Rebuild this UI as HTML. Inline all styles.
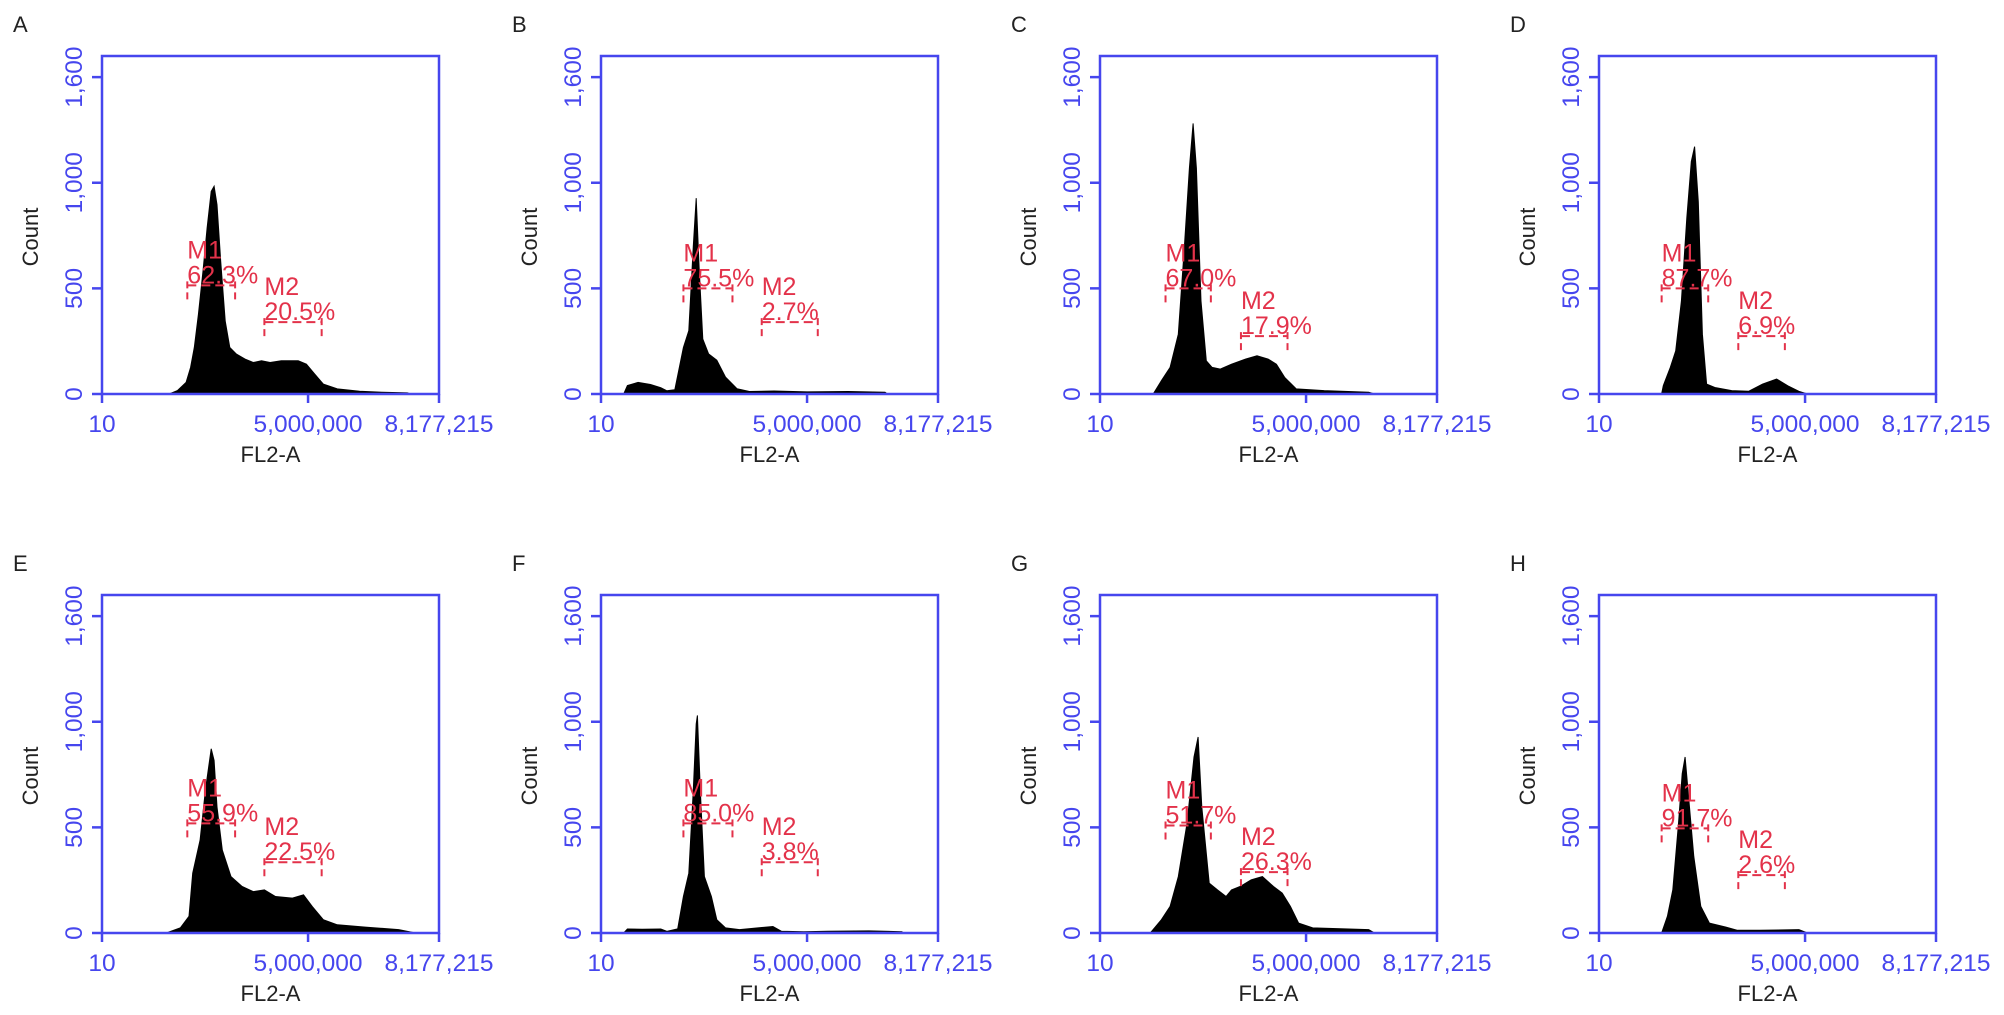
<!DOCTYPE html>
<html><head><meta charset="utf-8"><style>
html,body{margin:0;padding:0;background:#fff;}
svg{display:block;font-family:"Liberation Sans",Arial,sans-serif;}
</style></head><body>
<svg id="fig" width="2004" height="1015" viewBox="0 0 2004 1015" xmlns="http://www.w3.org/2000/svg"></svg>
<script>
// ---- data ----
const panelLetters = ['A','B','C','D','E','F','G','H'];
const yTickValues = [0, 500, 1000, 1500];
const yTickLabels = ['0', '500', '1,000', '1,600'];
const xTickValues = [0, 5, 8.177215];
const xTickLabels = ['10', '5,000,000', '8,177,215'];
// histogram outlines: x in millions (FL2-A), counts
const histX_A = [1.63,1.83,2.04,2.15,2.24,2.34,2.45,2.55,2.65,2.72,2.79,2.88,2.99,3.10,3.26,3.47,3.67,3.87,4.08,4.35,4.76,4.96,5.16,5.37,5.71,6.25,6.80,7.41,7.48];
const histY_A = [0,16,55,126,220,377,582,786,959,983,896,629,346,220,189,165,149,157,149,157,157,141,94,47,24,13,8,5,0];
const histX_B = [0.55,0.64,0.9,1.2,1.45,1.6,1.79,2.00,2.13,2.24,2.31,2.38,2.47,2.61,2.81,3.02,3.30,3.60,4.2,5.0,6.0,6.89,6.95];
const histY_B = [0,40,55,45,30,15,20,220,300,700,927,600,260,190,160,80,25,12,14,10,12,8,0];
const histX_C = [1.29,1.49,1.70,1.90,2.04,2.17,2.26,2.34,2.45,2.58,2.72,2.92,3.19,3.53,3.81,4.08,4.28,4.48,4.76,5.44,6.52,6.66];
const histY_C = [0,63,126,283,676,1069,1281,1069,440,157,126,118,141,165,181,165,141,79,24,16,8,0];
const histX_D = [1.52,1.56,1.73,1.86,2.00,2.13,2.24,2.32,2.41,2.51,2.61,2.81,3.22,3.63,3.97,4.31,4.58,4.85,5.06];
const histY_D = [0,40,126,204,440,833,1100,1171,911,283,47,31,16,13,47,71,39,13,0];
const histX_E = [1.56,1.90,2.11,2.20,2.38,2.51,2.65,2.72,2.79,2.92,3.13,3.40,3.67,3.94,4.21,4.62,4.89,5.10,5.37,5.71,6.39,7.20,7.61];
const histY_E = [0,24,79,283,440,676,872,817,597,393,267,220,196,204,173,165,181,126,63,39,28,16,0];
const histX_F = [0.55,0.64,1.0,1.45,1.6,1.86,2.00,2.13,2.24,2.31,2.34,2.41,2.51,2.68,2.81,3.02,3.36,4.17,4.38,4.92,5.5,6.5,7.30,7.35];
const histY_F = [0,19,18,19,8,20,173,283,676,990,1030,676,267,173,63,24,16,31,8,6,8,10,6,0];
const histX_G = [1.22,1.49,1.70,1.90,2.11,2.28,2.38,2.47,2.65,2.85,3.06,3.19,3.40,3.67,3.94,4.21,4.42,4.62,4.82,5.16,6.52,6.66];
const histY_G = [0,63,126,267,519,833,928,597,236,204,173,204,220,252,267,220,189,126,47,24,16,0];
const histX_H = [1.52,1.66,1.79,1.93,2.02,2.09,2.16,2.30,2.47,2.68,3.08,3.36,3.90,4.85,5.06];
const histY_H = [0,79,204,519,754,833,676,362,126,47,28,13,13,16,0];
const histXs = [histX_A,histX_B,histX_C,histX_D,histX_E,histX_F,histX_G,histX_H];
const histYs = [histY_A,histY_B,histY_C,histY_D,histY_E,histY_F,histY_G,histY_H];
// markers M1/M2: start, end (millions), level (count), percent label
const m1Start = [2.07,2.00,1.59,1.52,2.07,2.00,1.59,1.52];
const m1End   = [3.23,3.19,2.69,2.65,3.23,3.19,2.69,2.65];
const m1Level = [514,500,500,500,519,519,509,495];
const m1Pct   = ['62.3%','75.5%','67.0%','87.7%','55.9%','85.0%','51.7%','91.7%'];
const m2Start = [3.94,3.90,3.42,3.38,3.94,3.90,3.42,3.38];
const m2End   = [5.33,5.26,4.55,4.51,5.33,5.26,4.55,4.51];
const m2Level = [340,340,274,274,335,335,288,274];
const m2Pct   = ['20.5%','2.7%','17.9%','6.9%','22.5%','3.8%','26.3%','2.6%'];

// ---- layout ----
const NS='http://www.w3.org/2000/svg';
const svg=document.getElementById('fig');
const lefts=[102,601,1100,1599], tops=[56,595];
const W=337, H=338, XMAX=8.177215, YMAX=1600;
const BLUE='#4646ee', RED='#e3324a';
function mk(tag, attrs, parent){const e=document.createElementNS(NS,tag);for(const k in attrs)e.setAttribute(k,attrs[k]);(parent||svg).appendChild(e);return e;}

panelLetters.forEach((L,i)=>{
  const x0=lefts[i%4], y0=tops[Math.floor(i/4)];
  const sx=v=>x0+v/XMAX*W;
  const sy=v=>y0+H-v/YMAX*H;
  const g=mk('g',{});
  
  
  const lab=mk('text',{x:x0-89,y:y0-24,'font-size':22,fill:'#222'},g);
  lab.textContent=L;
  
  
  // histogram
  const xs=histXs[i], ys=histYs[i];
  let d='M'+sx(xs[0]).toFixed(1)+' '+sy(0).toFixed(1);
  for(let k=0;k<xs.length;k++) d+=' L'+sx(xs[k]).toFixed(1)+' '+sy(ys[k]).toFixed(1);
  d+=' L'+sx(xs[xs.length-1]).toFixed(1)+' '+sy(0).toFixed(1)+' Z';
  const h=mk('path',{d:d,fill:'#000',stroke:'#000','stroke-width':1},g);
  
  
  // frame
  const fr=mk('rect',{x:x0,y:y0,width:W,height:H,fill:'none',stroke:BLUE,'stroke-width':2.5},g);
  
  
  // y ticks
  yTickValues.forEach((v,k)=>{
    const y=sy(v);
    mk('line',{x1:x0-10,x2:x0,y1:y,y2:y,stroke:BLUE,'stroke-width':2.5},g);
    const t=mk('text',{x:0,y:0,'font-size':24.5,fill:BLUE,'text-anchor':'middle',transform:'translate('+(x0-20)+','+y+') rotate(-90)'},g);
    t.textContent=yTickLabels[k];
    
    
  });
  // x ticks
  xTickValues.forEach((v,k)=>{
    const x=sx(v);
    mk('line',{x1:x,x2:x,y1:y0+H,y2:y0+H+9,stroke:BLUE,'stroke-width':2.5},g);
    const t=mk('text',{x:x,y:y0+H+38,'font-size':24.5,fill:BLUE,'text-anchor':'middle'},g);
    t.textContent=xTickLabels[k];
    
    
  });
  const xt=mk('text',{x:x0+W/2,y:y0+H+68,'font-size':22,fill:'#222','text-anchor':'middle'},g);
  xt.textContent='FL2-A';
  
  
  const yt=mk('text',{x:0,y:0,'font-size':22,fill:'#222','text-anchor':'middle',transform:'translate('+(x0-64)+','+(y0+181)+') rotate(-90)'},g);
  yt.textContent='Count';
  
  
  // markers
  [[m1Start,m1End,m1Level,m1Pct,'M1'],[m2Start,m2End,m2Level,m2Pct,'M2']].forEach(m=>{
    const a=sx(m[0][i]), b=sx(m[1][i]), y=sy(m[2][i]);
    const mg=mk('g',{},g);
    
    
    mk('line',{x1:a,x2:b,y1:y,y2:y,stroke:RED,'stroke-width':2,'stroke-dasharray':'9,5'},mg);
    mk('line',{x1:a,x2:a,y1:y-4,y2:y+15,stroke:RED,'stroke-width':2,'stroke-dasharray':'7,4'},mg);
    mk('line',{x1:b,x2:b,y1:y-4,y2:y+15,stroke:RED,'stroke-width':2,'stroke-dasharray':'7,4'},mg);
    const n=mk('text',{x:a,y:y-27,'font-size':25,fill:RED},mg);
    n.textContent=m[4];
    const p=mk('text',{x:a,y:y-2,'font-size':25,fill:RED},mg);
    p.textContent=m[3][i];
  });
});
</script>
</body></html>
